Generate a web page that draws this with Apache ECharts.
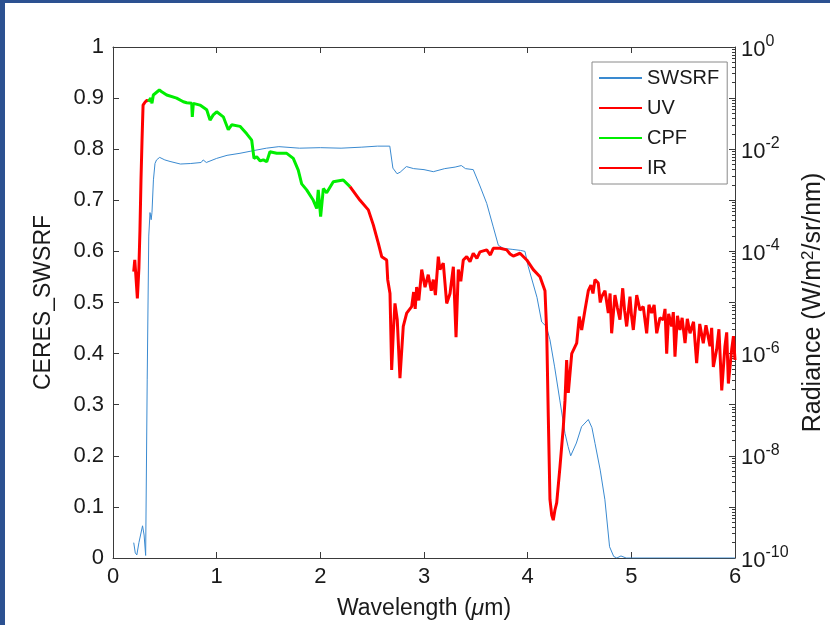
<!DOCTYPE html>
<html>
<head>
<meta charset="utf-8">
<script src="https://cdn.jsdelivr.net/npm/echarts@6/dist/echarts.min.js"></script>
<style>
html,body{margin:0;padding:0;background:#fff;}
#chart{width:830px;height:625px;}
</style>
</head>
<body>
<div id="chart"></div>
<script>
// ---- data (wavelength in µm) ----
const xTicks = [0, 1, 2, 3, 4, 5, 6];
const swsrfTicks = [0, 0.1, 0.2, 0.3, 0.4, 0.5, 0.6, 0.7, 0.8, 0.9, 1];
const radianceTicks = ['10^0', '10^-2', '10^-4', '10^-6', '10^-8', '10^-10'];

// CERES SWSRF (left axis)
const swsrf = [
  [0.20,0.030],[0.215,0.010],[0.23,0.006],[0.25,0.030],[0.285,0.063],[0.30,0.045],[0.315,0.005],
  [0.33,0.35],[0.345,0.63],[0.357,0.676],[0.368,0.662],[0.376,0.676],[0.39,0.74],[0.405,0.772],
  [0.42,0.779],[0.45,0.784],[0.50,0.779],[0.55,0.776],[0.65,0.771],[0.75,0.772],[0.85,0.774],
  [0.87,0.779],[0.90,0.774],[1.0,0.782],[1.1,0.788],[1.225,0.792],[1.35,0.797],[1.48,0.802],
  [1.6,0.805],[1.8,0.802],[2.0,0.803],[2.2,0.802],[2.4,0.804],[2.55,0.806],[2.67,0.806],
  [2.70,0.763],[2.74,0.752],[2.77,0.755],[2.83,0.766],[2.9,0.762],[3.0,0.760],[3.09,0.756],
  [3.2,0.762],[3.3,0.765],[3.36,0.768],[3.40,0.762],[3.475,0.760],[3.54,0.728],[3.605,0.694],
  [3.668,0.648],[3.717,0.612],[3.765,0.606],[3.85,0.604],[3.93,0.602],[3.974,0.600],[4.006,0.570],
  [4.09,0.510],[4.135,0.462],[4.18,0.453],[4.215,0.427],[4.26,0.374],[4.31,0.309],[4.36,0.244],
  [4.39,0.218],[4.415,0.200],[4.47,0.225],[4.52,0.257],[4.585,0.271],[4.62,0.255],[4.65,0.224],
  [4.70,0.172],[4.745,0.114],[4.79,0.022],[4.83,0.003],[4.86,0.0],[4.9,0.004],[4.95,0.0],
  [5.0,0.0],[6.0,0.0]
];

// Radiance (right axis, W/m^2/sr/nm)
const uv = [
  [0.20,4.0e-5],[0.21,6.8e-5],[0.22,3.5e-5],[0.235,1.2e-5],[0.25,4.8e-5],[0.26,2.6e-4],
  [0.27,2.5e-3],[0.28,1.5e-2],[0.29,7.3e-2],[0.31,8.4e-2],[0.33,9.2e-2],[0.34,8.5e-2]
];
const cpf = [
  [0.34,8.5e-2],[0.364,1.0e-1],[0.376,7.9e-2],[0.389,1.15e-1],[0.405,1.07e-1],[0.447,1.44e-1],
  [0.470,1.33e-1],[0.518,1.15e-1],[0.614,1.0e-1],[0.678,8.5e-2],[0.711,8.1e-2],[0.759,7.9e-2],
  [0.765,4.3e-2],[0.775,7.9e-2],[0.839,7.3e-2],[0.904,5.9e-2],[0.936,3.7e-2],[0.967,4.7e-2],
  [1.000,5.4e-2],[1.064,4.3e-2],[1.112,2.4e-2],[1.145,3.0e-2],[1.225,2.8e-2],[1.290,2.0e-2],
  [1.338,1.5e-2],[1.360,6.6e-3],[1.386,7.1e-3],[1.420,5.9e-3],[1.450,6.2e-3],[1.483,5.7e-3],
  [1.514,8.9e-3],[1.579,8.3e-3],[1.676,8.3e-3],[1.739,6.6e-3],[1.787,3.9e-3],[1.820,2.1e-3],
  [1.868,1.6e-3],[1.932,1.0e-3],[1.965,6.9e-4],[1.980,1.6e-3],[2.003,4.8e-4],[2.029,1.7e-3],
  [2.061,1.4e-3],[2.125,2.3e-3],[2.221,2.5e-3],[2.286,1.85e-3]
];
const ir = [
  [2.286,1.85e-3],[2.302,1.7e-3],[2.383,1.0e-3],[2.463,6.5e-4],[2.511,3.3e-4],[2.559,1.45e-4],
  [2.592,7.9e-5],[2.640,6.8e-5],[2.65,2.8e-5],[2.672,1.5e-5],[2.688,4.8e-7],[2.705,2.9e-6],
  [2.720,9.6e-6],[2.742,4.6e-6],[2.768,3.3e-7],[2.800,3.4e-6],[2.833,6.2e-6],[2.881,8.3e-6],
  [2.90,1.6e-5],[2.915,7.5e-6],
  [2.929,2.0e-5],[2.95,1.1e-5],[2.978,4.4e-5],[3.010,2.0e-5],[3.041,3.5e-5],[3.07,1.7e-5],
  [3.090,2.8e-5],[3.11,1.4e-5],[3.138,7.9e-5],[3.154,4.4e-5],[3.186,5.9e-5],[3.219,9.6e-6],[3.251,1.5e-5],
  [3.283,5.0e-5],[3.309,2.1e-6],[3.331,4.4e-5],[3.355,2.6e-5],[3.379,6.8e-5],[3.412,7.9e-5],[3.444,6.3e-5],
  [3.475,9.2e-5],[3.51,7.3e-5],[3.540,9.8e-5],[3.605,1.07e-4],[3.64,8.5e-5],[3.668,1.15e-4],
  [3.733,1.15e-4],[3.798,1.07e-4],[3.83,8.9e-5],[3.861,8.1e-5],[3.926,9.2e-5],[3.991,6.8e-5],
  [4.054,4.4e-5],[4.119,3.2e-5],[4.167,1.7e-5],[4.184,2.5e-6],[4.199,5.9e-8],[4.215,1.4e-9],
  [4.232,6.9e-10],[4.247,5.5e-10],[4.263,8.7e-10],[4.280,1.2e-9],[4.312,6.2e-9],[4.344,3.7e-8],
  [4.36,1.2e-7],[4.376,7.5e-7],[4.392,1.7e-7],[4.425,1.0e-6],[4.473,1.6e-6],[4.498,5.3e-6],
  [4.521,2.9e-6],[4.553,7.1e-6],[4.585,1.7e-5],[4.61,2.2e-5],[4.63,1.5e-5],[4.649,2.8e-5],[4.681,2.4e-5],
  [4.70,1.0e-5],[4.714,1.3e-5],[4.746,1.7e-5],[4.778,6.2e-6],[4.795,1.5e-5],[4.810,2.5e-6],[4.842,1.4e-5],
  [4.865,8.0e-6],[4.890,4.6e-6],
  [4.917,1.9e-5],[4.935,7.0e-6],[4.955,3.4e-6],[4.987,1.3e-5],[5.00,6.0e-6],[5.019,2.9e-6],[5.052,1.4e-5],[5.083,7.1e-6],
  [5.115,8.3e-6],[5.148,2.5e-6],[5.17,9.0e-6],[5.196,6.2e-6],[5.22,9.0e-6],[5.245,2.5e-6],[5.276,5.0e-6],[5.308,4.6e-6],
  [5.325,7.5e-6],[5.341,1.0e-6],[5.36,6.0e-6],[5.389,3.4e-6],[5.405,6.5e-6],[5.421,8.7e-7],[5.445,5.5e-6],[5.469,2.9e-6],
  [5.49,5.0e-6],[5.518,1.6e-6],[5.54,4.8e-6],[5.566,2.5e-6],[5.60,4.2e-6],
  [5.630,6.5e-7],[5.66,3.8e-6],[5.694,1.6e-6],[5.72,3.6e-6],[5.759,1.4e-6],[5.775,3.2e-6],[5.791,5.5e-7],[5.823,1.2e-6],
  [5.845,3.0e-6],[5.872,1.9e-7],
  [5.903,1.4e-6],[5.92,2.6e-6],[5.936,2.6e-7],[5.968,1.2e-6],[5.985,2.2e-6],[6.0,7.5e-7]
];

const AX = '#3a3a3a';
const TXT = '#1a1a1a';
const FONT = 'Liberation Sans, Arial, Helvetica, sans-serif';

const chart = echarts.init(document.getElementById('chart'), null, {renderer: 'canvas'});
chart.setOption({
  backgroundColor: '#ffffff',
  animation: false,
  textStyle: {fontFamily: FONT},
  graphic: [
    {type: 'rect', left: 0, top: 0, shape: {width: 830, height: 3}, style: {fill: '#2c5191'}, z: 100},
    {type: 'rect', left: 0, top: 0, shape: {width: 5, height: 625}, style: {fill: '#2c5191'}, z: 100}
  ],
  grid: {left: 113, right: 95, top: 47, bottom: 67, containLabel: false, outerBoundsMode: 'none'},
  legend: {
    data: ['SWSRF', 'UV', 'CPF', 'IR'],
    orient: 'vertical',
    left: 592, top: 62,
    itemWidth: 43, itemHeight: 14, itemGap: 10,
    padding: [6, 8, 6, 6],
    backgroundColor: '#ffffff',
    borderColor: '#8a8a8a', borderWidth: 1, borderRadius: 0,
    itemStyle: {opacity: 0},
    textStyle: {fontSize: 20, color: TXT, fontFamily: FONT}
  },
  xAxis: [{
    type: 'value', min: xTicks[0], max: xTicks[xTicks.length - 1], interval: 1,
    position: 'bottom',
    name: 'Wavelength ({i|μ}m)', nameLocation: 'middle', nameGap: 39,
    nameTextStyle: {fontSize: 23, color: TXT, rich: {i: {fontSize: 23, fontStyle: 'italic', color: TXT}}},
    axisLine: {show: true, onZero: false, lineStyle: {color: AX, width: 1}},
    axisTick: {show: true, inside: true, length: 6, lineStyle: {color: AX}},
    axisLabel: {fontSize: 22, color: TXT, margin: 8},
    splitLine: {show: false}
  }, {
    type: 'value', min: xTicks[0], max: xTicks[xTicks.length - 1], interval: 1,
    position: 'top',
    axisLine: {show: true, onZero: false, lineStyle: {color: AX, width: 1}},
    axisTick: {show: true, inside: true, length: 6, lineStyle: {color: AX}},
    axisLabel: {show: false},
    splitLine: {show: false}
  }],
  yAxis: [{
    type: 'value', min: swsrfTicks[0], max: swsrfTicks[swsrfTicks.length - 1], interval: 0.1,
    position: 'left',
    name: 'CERES_SWSRF', nameLocation: 'middle', nameGap: 58, nameRotate: 90,
    nameTextStyle: {fontSize: 23, color: TXT},
    axisLine: {show: true, onZero: false, lineStyle: {color: AX, width: 1}},
    axisTick: {show: true, inside: true, length: 6, lineStyle: {color: AX}},
    axisLabel: {fontSize: 22, color: TXT, margin: 9, formatter: v => String(Math.round(v * 10) / 10)},
    splitLine: {show: false}
  }, {
    type: 'log', logBase: 10, min: 1e-10, max: 1, interval: 1,
    position: 'right',
    name: 'Radiance (W/m{s|2}/sr/nm)', nameLocation: 'middle', nameGap: 80, nameRotate: 90,
    nameTextStyle: {fontSize: 25, color: TXT, verticalAlign: 'bottom',
      rich: {s: {fontSize: 17, color: TXT, verticalAlign: 'bottom', padding: [0, 0, 11, 0]}}},
    axisLine: {show: true, onZero: false, lineStyle: {color: AX, width: 1}},
    axisTick: {show: true, inside: true, length: 6, lineStyle: {color: AX}},
    minorTick: {show: true, splitNumber: 9, length: 3, lineStyle: {color: AX}},
    axisLabel: {
      fontSize: 22, color: TXT, margin: 6,
      formatter: function (v) {
        const e = Math.round(Math.log10(v));
        const lbl = radianceTicks.find(t => t === '10^' + e);
        if (!lbl) return '';
        return '{b|10}{s|' + e + '}';
      },
      rich: {
        b: {fontSize: 22, color: TXT, verticalAlign: 'bottom'},
        s: {fontSize: 16, color: TXT, verticalAlign: 'bottom', padding: [0, 0, 11, 0]}
      }
    },
    splitLine: {show: false}
  }],
  series: [{
    name: 'SWSRF', type: 'line', xAxisIndex: 0, yAxisIndex: 0, data: swsrf,
    symbol: 'none', smooth: false,
    lineStyle: {color: '#3a8ad0', width: 1}, itemStyle: {color: '#3a8ad0'}, z: 3
  }, {
    name: 'UV', type: 'line', xAxisIndex: 0, yAxisIndex: 1, data: uv,
    symbol: 'none', lineStyle: {color: '#ff0000', width: 3}, itemStyle: {color: '#ff0000'}, z: 4
  }, {
    name: 'CPF', type: 'line', xAxisIndex: 0, yAxisIndex: 1, data: cpf,
    symbol: 'none', lineStyle: {color: '#00ee00', width: 3}, itemStyle: {color: '#00ee00'}, z: 4
  }, {
    name: 'IR', type: 'line', xAxisIndex: 0, yAxisIndex: 1, data: ir,
    symbol: 'none', lineStyle: {color: '#ff0000', width: 3}, itemStyle: {color: '#ff0000'}, z: 4
  }]
});
</script>
</body>
</html>
